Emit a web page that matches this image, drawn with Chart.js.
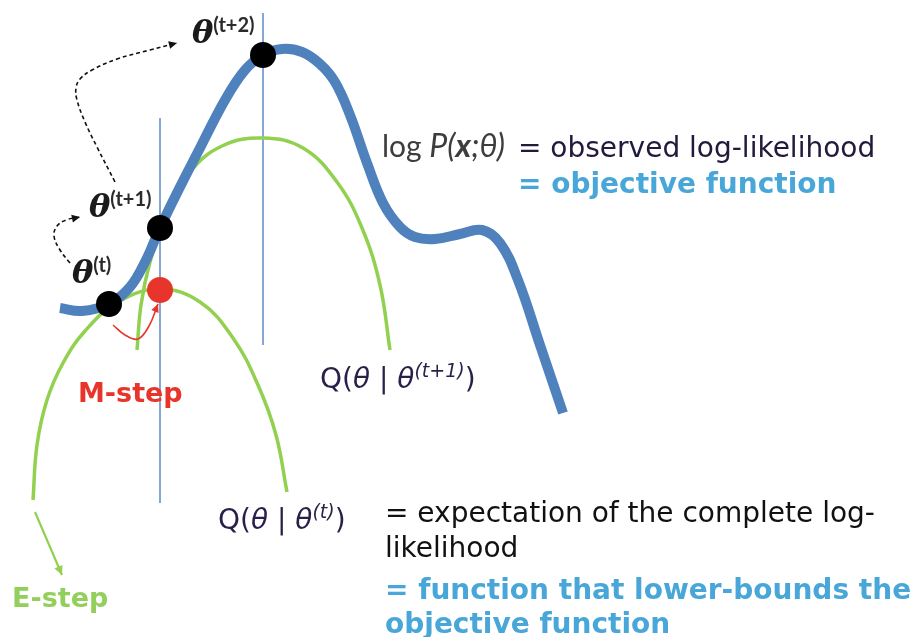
<!DOCTYPE html>
<html>
<head>
<meta charset="utf-8">
<script src="https://cdn.jsdelivr.net/npm/chart.js@4.4.0/dist/chart.umd.min.js"></script>
<style>
  html, body { margin: 0; padding: 0; background: #fff; }
  canvas { display: block; }
</style>
</head>
<body>
<canvas id="emChart" width="917" height="637"></canvas>
<script>
// observed log-likelihood log P(x;θ)
const logLikX = [60, 82, 109, 130, 145, 160, 180, 200, 225, 245, 263, 282, 302, 320, 335, 350, 367, 383, 400, 415, 435, 460, 482, 500, 518, 540, 563];
const logLikY = [308, 311, 304, 287, 262, 228, 187, 148, 100, 70, 55, 49, 52, 64, 82, 115, 163, 203, 227, 237, 239, 234, 230, 243, 280, 345, 413];

// lower bound Q(θ | θ(t))
const qTX = [33, 37, 47, 63, 85, 118, 160, 200, 233, 258, 276, 287];
const qTY = [500, 445, 400, 363, 331, 302, 289, 302, 338, 385, 435, 492];

// lower bound Q(θ | θ(t+1))
const qT1X = [137, 141, 150, 166, 190, 222, 263, 303, 337, 362, 380, 390];
const qT1Y = [350, 305, 262, 215, 172, 146, 138, 148, 182, 228, 285, 350];

// iterates θ(t), θ(t+1), θ(t+2) and the M-step maximiser
const thetaX = [109, 160, 263];
const thetaY = [304, 228, 55];
const mStepX = [160];
const mStepY = [290];

// vertical guides at θ(t+1) and θ(t+2)
const guideX = [160, 263];
const guideTop = [118, 13];
const guideBottom = [503, 345];

// arrows
const jumpAX = [70, 60, 54, 57, 66, 80];
const jumpAY = [263, 250, 236, 226, 220, 217];
const jumpBX = [115, 97, 85, 77, 76, 80, 92, 117, 150, 177];
const jumpBY = [182, 147, 122, 100, 88, 79, 70, 59, 50, 43];
const mArrowX = [113, 125, 138, 149, 158];
const mArrowY = [325, 335, 339, 326, 304];
const eArrowX = [35, 62];
const eArrowY = [512, 575];

const toPoints = (xs, ys) => xs.map((x, i) => ({ x: x, y: ys[i] }));

const SANS = '"DejaVu Sans"';
const THETA = 'bold italic 32px "DejaVu Serif"';
const SUP = 'bold 20px Lato';
const labels = [
  { x: 192, y: 43, runs: [
    { text: 'θ', font: THETA, color: '#1b1b1b' },
    { text: '(t+2)', font: SUP, color: '#2b2b2b', dy: -11 } ] },
  { x: 89, y: 217, runs: [
    { text: 'θ', font: THETA, color: '#1b1b1b' },
    { text: '(t+1)', font: SUP, color: '#2b2b2b', dy: -11 } ] },
  { x: 72, y: 283, runs: [
    { text: 'θ', font: THETA, color: '#1b1b1b' },
    { text: '(t)', font: SUP, color: '#2b2b2b', dy: -11 } ] },
  { x: 382, y: 157, runs: [
    { text: 'log ', font: '30px Lato', color: '#3d3d3d' },
    { text: 'P(', font: 'italic 32px Lato', color: '#3d3d3d' },
    { text: 'x', font: 'bold italic 32px Lato', color: '#3d3d3d' },
    { text: ';θ)', font: 'italic 32px Lato', color: '#3d3d3d' } ] },
  { x: 518, y: 157, runs: [
    { text: '= observed log-likelihood', font: '28px ' + SANS, color: '#22193b' } ] },
  { x: 518, y: 193, runs: [
    { text: '= objective function', font: 'bold 28px ' + SANS, color: '#48a7d8' } ] },
  { x: 320, y: 388, runs: [
    { text: 'Q(', font: '28px ' + SANS, color: '#2a1f48' },
    { text: 'θ', font: 'italic 28px ' + SANS, color: '#2a1f48' },
    { text: ' | ', font: '28px ' + SANS, color: '#2a1f48' },
    { text: 'θ', font: 'italic 28px ' + SANS, color: '#2a1f48' },
    { text: '(t+1)', font: 'italic 19px ' + SANS, color: '#2a1f48', dy: -11 },
    { text: ')', font: '28px ' + SANS, color: '#2a1f48' } ] },
  { x: 218, y: 529, runs: [
    { text: 'Q(', font: '28px ' + SANS, color: '#2a1f48' },
    { text: 'θ', font: 'italic 28px ' + SANS, color: '#2a1f48' },
    { text: ' | ', font: '28px ' + SANS, color: '#2a1f48' },
    { text: 'θ', font: 'italic 28px ' + SANS, color: '#2a1f48' },
    { text: '(t)', font: 'italic 19px ' + SANS, color: '#2a1f48', dy: -11 },
    { text: ')', font: '28px ' + SANS, color: '#2a1f48' } ] },
  { x: 385, y: 522, runs: [ { text: '= expectation of the complete log-', font: '28px ' + SANS, color: '#111' } ] },
  { x: 385, y: 557, runs: [ { text: 'likelihood', font: '28px ' + SANS, color: '#111' } ] },
  { x: 385, y: 599, runs: [ { text: '= function that lower-bounds the', font: 'bold 28px ' + SANS, color: '#48a7d8' } ] },
  { x: 385, y: 633, runs: [ { text: 'objective function', font: 'bold 28px ' + SANS, color: '#48a7d8' } ] },
  { x: 78, y: 402, runs: [ { text: 'M-step', font: 'bold 27px ' + SANS, color: '#e8352b' } ] },
  { x: 12, y: 607, runs: [ { text: 'E-step', font: 'bold 27px ' + SANS, color: '#92cf5c' } ] }
];

// draws the arrow heads at the end of datasets that ask for one
const arrowHeads = {
  id: 'arrowHeads',
  afterDatasetsDraw(chart) {
    const ctx = chart.ctx;
    chart.data.datasets.forEach((ds, i) => {
      if (!ds.arrowSize) return;
      const pts = chart.getDatasetMeta(i).data;
      const end = pts[pts.length - 1];
      let fx = end.cp1x, fy = end.cp1y;
      if (fx === undefined || Math.hypot(end.x - fx, end.y - fy) < 1) {
        fx = pts[pts.length - 2].x;
        fy = pts[pts.length - 2].y;
      }
      const a = Math.atan2(end.y - fy, end.x - fx);
      const s = ds.arrowSize;
      ctx.save();
      ctx.fillStyle = ds.borderColor;
      ctx.beginPath();
      ctx.moveTo(end.x, end.y);
      ctx.lineTo(end.x - s * Math.cos(a - 0.45), end.y - s * Math.sin(a - 0.45));
      ctx.lineTo(end.x - s * Math.cos(a + 0.45), end.y - s * Math.sin(a + 0.45));
      ctx.closePath();
      ctx.fill();
      ctx.restore();
    });
  }
};

// text labels placed in chart units
const textLabels = {
  id: 'textLabels',
  afterDraw(chart) {
    const ctx = chart.ctx;
    const xs = chart.scales.x, ys = chart.scales.y;
    ctx.save();
    ctx.textBaseline = 'alphabetic';
    labels.forEach(l => {
      let cx = xs.getPixelForValue(l.x);
      const cy = ys.getPixelForValue(l.y);
      l.runs.forEach(r => {
        ctx.font = r.font;
        ctx.fillStyle = r.color;
        ctx.fillText(r.text, cx, cy + (r.dy || 0));
        cx += ctx.measureText(r.text).width;
      });
    });
    ctx.restore();
  }
};

const lineSet = (data, color, width, extra) => Object.assign({
  data: data, showLine: true, borderColor: color, backgroundColor: color,
  borderWidth: width, pointRadius: 0, tension: 0.4, fill: false
}, extra || {});

const datasets = [
  // dots on top
  { data: toPoints(thetaX, thetaY), pointRadius: 13, backgroundColor: '#000', borderWidth: 0, order: 0 },
  { data: toPoints(mStepX, mStepY), pointRadius: 13, backgroundColor: '#e8352b', borderWidth: 0, order: 0 },
  lineSet(toPoints(logLikX, logLikY), '#4f81bd', 10, { order: 2 }),
  lineSet(toPoints(qTX, qTY), '#92d050', 3.5, { order: 3 }),
  lineSet(toPoints(qT1X, qT1Y), '#92d050', 3.5, { order: 3 }),
  lineSet(toPoints(jumpAX, jumpAY), '#111', 1.6, { order: 1, borderDash: [4, 3], arrowSize: 9 }),
  lineSet(toPoints(jumpBX, jumpBY), '#111', 1.6, { order: 1, borderDash: [4, 3], arrowSize: 9 }),
  lineSet(toPoints(mArrowX, mArrowY), '#e8352b', 1.6, { order: 1, arrowSize: 9 }),
  lineSet(toPoints(eArrowX, eArrowY), '#92d050', 2.2, { order: 1, tension: 0, arrowSize: 10 })
];
guideX.forEach((gx, i) => {
  datasets.push(lineSet([{ x: gx, y: guideTop[i] }, { x: gx, y: guideBottom[i] }], '#86a6d6', 2, { order: 4, tension: 0 }));
});

new Chart(document.getElementById('emChart'), {
  type: 'scatter',
  data: { datasets: datasets },
  options: {
    responsive: false,
    animation: false,
    events: [],
    layout: { padding: 0, autoPadding: false },
    plugins: { legend: { display: false }, tooltip: { enabled: false } },
    scales: {
      x: { type: 'linear', min: 0, max: 917, display: false },
      y: { type: 'linear', min: 0, max: 637, reverse: true, display: false }
    }
  },
  plugins: [arrowHeads, textLabels]
});
</script>
</body>
</html>
